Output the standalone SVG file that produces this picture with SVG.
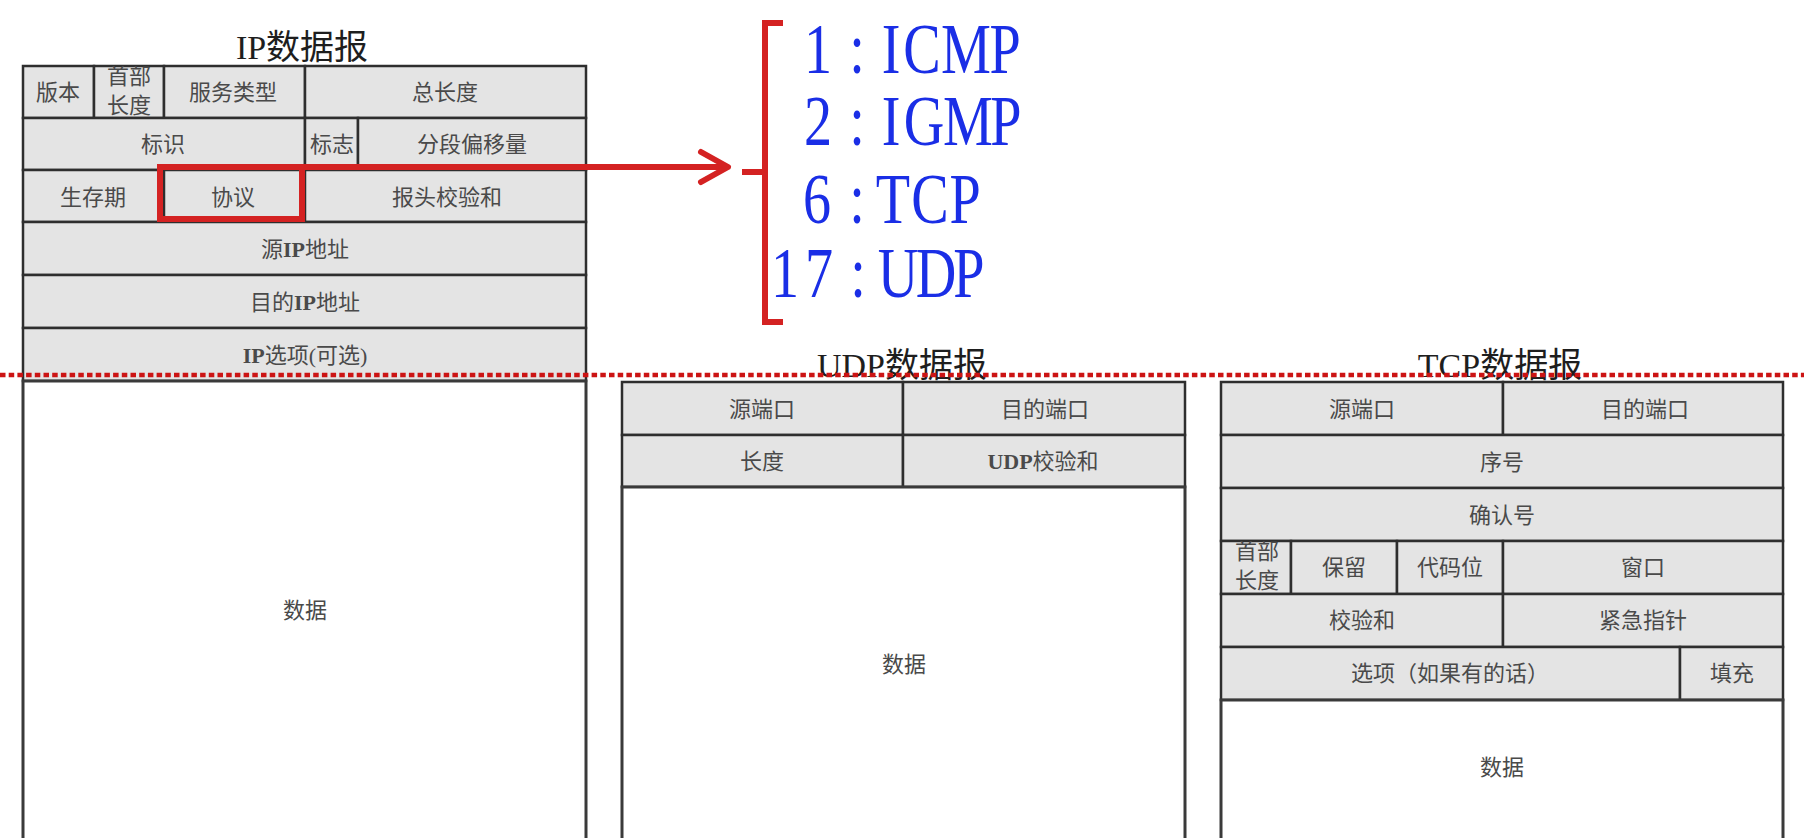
<svg xmlns="http://www.w3.org/2000/svg" width="1804" height="838" viewBox="0 0 1804 838">
<style>
.cell{fill:#e4e4e4;stroke:#2e2e2e;stroke-width:2.5}
.data{fill:#ffffff;stroke:#3a3a3a;stroke-width:3}
.lbl{font-family:"Liberation Serif","Noto Sans CJK SC",serif;font-size:22px;fill:#4a4a4a;text-anchor:middle}
.ttl{font-family:"Liberation Serif","Noto Sans CJK SC",serif;font-size:34px;fill:#1e1e1e;text-anchor:middle}
.proto{font-family:"Liberation Serif",serif;font-size:72px;fill:#1a2ee6;text-anchor:middle}
.red{fill:none;stroke:#d42222;stroke-width:6}
</style>
<defs>
<clipPath id="clipHL1"><rect x="94" y="66" width="70" height="52"/></clipPath>
<clipPath id="clipHL2"><rect x="1221" y="541" width="70" height="53"/></clipPath>
</defs>

<g id="ip-datagram">
<text class="ttl" x="302" y="59">IP数据报</text>
<rect class="cell" x="23" y="66" width="71" height="52"/>
<rect class="cell" x="94" y="66" width="70" height="52"/>
<rect class="cell" x="164" y="66" width="141" height="52"/>
<rect class="cell" x="305" y="66" width="281" height="52"/>
<rect class="cell" x="23" y="118" width="282" height="52"/>
<rect class="cell" x="305" y="118" width="53" height="52"/>
<rect class="cell" x="358" y="118" width="228" height="52"/>
<rect class="cell" x="23" y="170" width="141" height="52"/>
<rect class="cell" x="164" y="170" width="141" height="52"/>
<rect class="cell" x="305" y="170" width="281" height="52"/>
<rect class="cell" x="23" y="222" width="563" height="53"/>
<rect class="cell" x="23" y="275" width="563" height="53"/>
<rect class="cell" x="23" y="328" width="563" height="53"/>
<rect class="data" x="23" y="381" width="563" height="470"/>
<text class="lbl" x="58" y="100">版本</text>
<g clip-path="url(#clipHL1)"><text class="lbl" x="129" y="84">首部</text></g>
<text class="lbl" x="129" y="113">长度</text>
<text class="lbl" x="233" y="100">服务类型</text>
<text class="lbl" x="445" y="100">总长度</text>
<text class="lbl" x="163" y="152">标识</text>
<text class="lbl" x="332" y="152">标志</text>
<text class="lbl" x="472" y="152">分段偏移量</text>
<text class="lbl" x="93" y="205">生存期</text>
<text class="lbl" x="233" y="205">协议</text>
<text class="lbl" x="447" y="205">报头校验和</text>
<text class="lbl" x="305" y="257">源<tspan font-weight="bold">IP</tspan>地址</text>
<text class="lbl" x="305" y="310">目的<tspan font-weight="bold">IP</tspan>地址</text>
<text class="lbl" x="305" y="363"><tspan font-weight="bold">IP</tspan>选项(可选)</text>
<text class="lbl" x="305" y="618">数据</text>
</g>

<g id="udp-datagram">
<text class="ttl" x="902" y="377">UDP数据报</text>
<rect class="cell" x="622" y="382" width="281" height="53"/>
<rect class="cell" x="903" y="382" width="282" height="53"/>
<rect class="cell" x="622" y="435" width="281" height="52"/>
<rect class="cell" x="903" y="435" width="282" height="52"/>
<rect class="data" x="622" y="487" width="563" height="365"/>
<text class="lbl" x="762" y="417">源端口</text>
<text class="lbl" x="1045" y="417">目的端口</text>
<text class="lbl" x="762" y="469">长度</text>
<text class="lbl" x="1043" y="469"><tspan font-weight="bold">UDP</tspan>校验和</text>
<text class="lbl" x="904" y="672">数据</text>
</g>

<g id="tcp-datagram">
<text class="ttl" x="1500" y="377">TCP数据报</text>
<rect class="cell" x="1221" y="382" width="282" height="53"/>
<rect class="cell" x="1503" y="382" width="280" height="53"/>
<rect class="cell" x="1221" y="435" width="562" height="53"/>
<rect class="cell" x="1221" y="488" width="562" height="53"/>
<rect class="cell" x="1221" y="541" width="70" height="53"/>
<rect class="cell" x="1291" y="541" width="106" height="53"/>
<rect class="cell" x="1397" y="541" width="106" height="53"/>
<rect class="cell" x="1503" y="541" width="280" height="53"/>
<rect class="cell" x="1221" y="594" width="282" height="53"/>
<rect class="cell" x="1503" y="594" width="280" height="53"/>
<rect class="cell" x="1221" y="647" width="459" height="53"/>
<rect class="cell" x="1680" y="647" width="103" height="53"/>
<rect class="data" x="1221" y="700" width="562" height="152"/>
<text class="lbl" x="1362" y="417">源端口</text>
<text class="lbl" x="1645" y="417">目的端口</text>
<text class="lbl" x="1502" y="470">序号</text>
<text class="lbl" x="1502" y="523">确认号</text>
<g clip-path="url(#clipHL2)"><text class="lbl" x="1257" y="559">首部</text></g>
<text class="lbl" x="1257" y="588">长度</text>
<text class="lbl" x="1344" y="575">保留</text>
<text class="lbl" x="1450" y="575">代码位</text>
<text class="lbl" x="1643" y="575">窗口</text>
<text class="lbl" x="1362" y="628">校验和</text>
<text class="lbl" x="1643" y="628">紧急指针</text>
<text class="lbl" x="1450" y="681">选项（如果有的话）</text>
<text class="lbl" x="1732" y="681">填充</text>
<text class="lbl" x="1502" y="775">数据</text>
</g>

<g id="protocol-list">
<path class="red" stroke-width="5" d="M783,23 H765 V322 H783 M742,172 H765"/>
<g transform="scale(0.78,1)">
<text class="proto" x="1048.7 1098.7 1142.3 1182.1 1238.5 1288.5" y="73">1:ICMP</text>
<text class="proto" x="1048.7 1098.7 1142.3 1184.6 1241 1289.7" y="145">2:IGMP</text>
<text class="proto" x="1047.4 1098.7 1144.9 1192.3 1237.2" y="223">6:TCP</text>
<text class="proto" x="1006.4 1050 1100 1151.3 1200 1242.3" y="297">17:UDP</text>
</g>
</g>

<g id="connectors">
<rect id="protocol-highlight" class="red" x="160" y="167" width="142" height="52"/>
<path class="red" d="M302,167 H726"/>
<polyline class="red" points="701,152 728,167 701,182" stroke-linejoin="round" stroke-linecap="round"/>
</g>

<line id="divider" x1="0" y1="375" x2="1804" y2="375" stroke="#cc1414" stroke-width="4.5" stroke-dasharray="5.5 3.2"/>
</svg>
